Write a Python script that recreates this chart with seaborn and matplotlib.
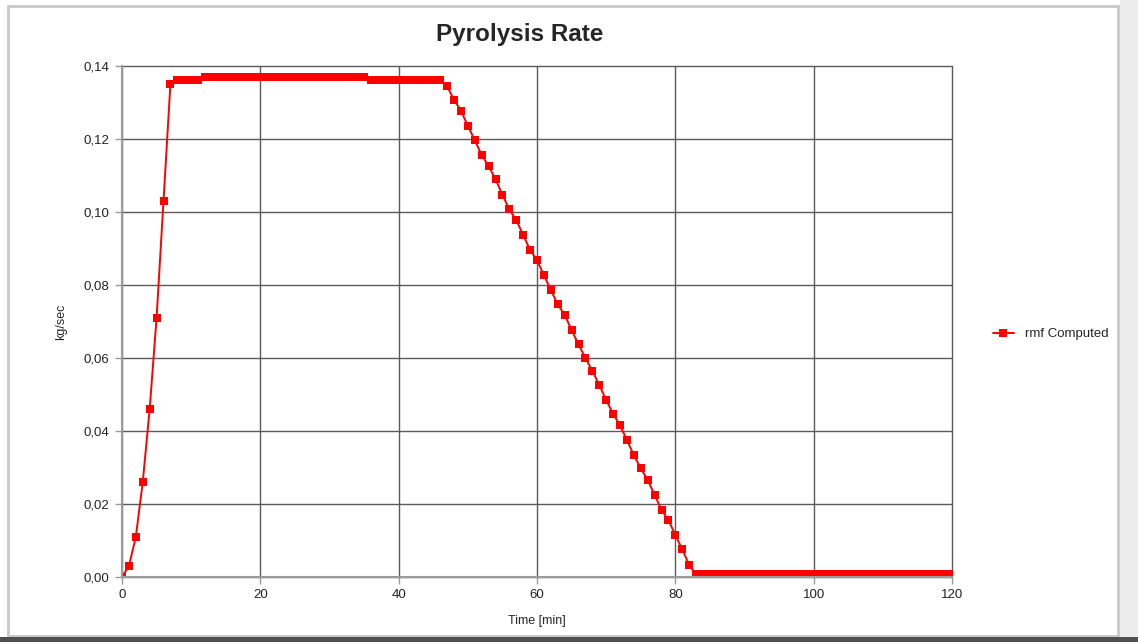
import numpy as np
import pandas as pd
import matplotlib
matplotlib.use("Agg")
import matplotlib.pyplot as plt
import matplotlib.patches as mpatches
import seaborn as sns
from matplotlib.ticker import FuncFormatter

# Data (one point per minute)
time_min = list(range(0, 121))
rmf_rise = [0.000, 0.003, 0.011, 0.026, 0.046, 0.071, 0.103, 0.135]
rmf_plateau = [
    0.1363, 0.1363, 0.1363, 0.1363,                                   # 8-11
    0.1370, 0.1370, 0.1370, 0.1370, 0.1370, 0.1370, 0.1370, 0.1370,   # 12-19
    0.1370, 0.1370, 0.1370, 0.1370, 0.1370, 0.1370, 0.1370, 0.1370,   # 20-27
    0.1370, 0.1370, 0.1370, 0.1370, 0.1370, 0.1370, 0.1370, 0.1370,   # 28-35
    0.1363, 0.1363, 0.1363, 0.1363, 0.1363, 0.1363, 0.1363, 0.1363,   # 36-43
    0.1363, 0.1363, 0.1363,                                           # 44-46
]
rmf_fall = [
    0.1345, 0.1307, 0.1278, 0.1236, 0.1197, 0.1156, 0.1126, 0.1090,   # 47-54
    0.1047, 0.1007, 0.0978, 0.0937, 0.0896, 0.0868, 0.0827, 0.0786,   # 55-62
    0.0747, 0.0718, 0.0677, 0.0637, 0.0600, 0.0565, 0.0526, 0.0485,   # 63-70
    0.0447, 0.0416, 0.0375, 0.0334, 0.0298, 0.0266, 0.0225, 0.0184,   # 71-78
    0.0156, 0.0115, 0.0076, 0.0033,                                   # 79-82
]
rmf_tail = [
    0.0007, 0.0007, 0.0007, 0.0007, 0.0007, 0.0007, 0.0007, 0.0007,   # 83-90
    0.0007, 0.0007, 0.0007, 0.0007, 0.0007, 0.0007, 0.0007, 0.0007,   # 91-98
    0.0007, 0.0007, 0.0007, 0.0007, 0.0007, 0.0007, 0.0007, 0.0007,   # 99-106
    0.0007, 0.0007, 0.0007, 0.0007, 0.0007, 0.0007, 0.0007, 0.0007,   # 107-114
    0.0007, 0.0007, 0.0007, 0.0007, 0.0007, 0.0007,                   # 115-120
]
rmf_computed = rmf_rise + rmf_plateau + rmf_fall + rmf_tail

x_ticks = [0, 20, 40, 60, 80, 100, 120]
y_ticks = [0.00, 0.02, 0.04, 0.06, 0.08, 0.10, 0.12, 0.14]

sns.set_style("white")
plt.rcParams["font.family"] = ["Liberation Sans", "DejaVu Sans"]

df = pd.DataFrame({"Time [min]": time_min, "rmf Computed": rmf_computed})

fig = plt.figure(figsize=(11.38, 6.42), dpi=100)
fig.patch.set_facecolor("white")

# chart frame like the spreadsheet export
fig.add_artist(mpatches.Rectangle((8 / 1138, 6 / 642), 1110 / 1138, 630 / 642,
                                  transform=fig.transFigure, fill=False,
                                  edgecolor="#c8c8c8", linewidth=2))
fig.add_artist(mpatches.Rectangle((1120 / 1138, 0), 18 / 1138, 1,
                                  transform=fig.transFigure, facecolor="#ececec",
                                  edgecolor="none"))
fig.add_artist(mpatches.Rectangle((0, 0), 1, 5 / 642, transform=fig.transFigure,
                                  facecolor="#505050", edgecolor="none"))

ax = fig.add_axes([122 / 1138, 1 - 577 / 642, (952 - 122) / 1138, (577 - 66) / 642])

sns.lineplot(data=df, x="Time [min]", y="rmf Computed", ax=ax, color="#ff0000",
             linewidth=1.4, marker="s", markersize=5.5, markeredgewidth=0,
             label="rmf Computed")

ax.set_xlim(0, 120)
ax.set_ylim(0, 0.14)
ax.set_xticks(x_ticks)
ax.set_yticks(y_ticks)
ax.yaxis.set_major_formatter(FuncFormatter(lambda v, p: f"{v:.2f}".replace(".", ",")))
ax.grid(True, color="#5a5a5a", linewidth=1.0)
ax.set_axisbelow(True)
# keep the edge gridlines (x=120, y=0.14) fully visible
for gl in ax.get_xgridlines() + ax.get_ygridlines():
    gl.set_clip_on(False)
for side in ["top", "right"]:
    ax.spines[side].set_visible(False)
for side in ["left", "bottom"]:
    ax.spines[side].set_color("#9a9a9a")
    ax.spines[side].set_linewidth(1.5)
ax.tick_params(axis="both", which="major", length=5, width=1, color="#9a9a9a",
               labelsize=9.5, labelcolor="#222222", pad=4, direction="out")
ax.tick_params(left=True, bottom=True)

ax.set_xlabel("Time [min]", fontsize=9, labelpad=10)
ax.set_ylabel("kg/sec", fontsize=9, labelpad=12)
fig.text(520 / 1138, 1 - 35 / 642, "Pyrolysis Rate", fontsize=17.5,
         fontweight="bold", ha="center", va="center")

ax.legend(loc="center left", bbox_to_anchor=(1.035, 0.475), frameon=False,
          fontsize=9.5, handlelength=1.6, markerscale=1.0)

fig.savefig("out.png", dpi=100)
